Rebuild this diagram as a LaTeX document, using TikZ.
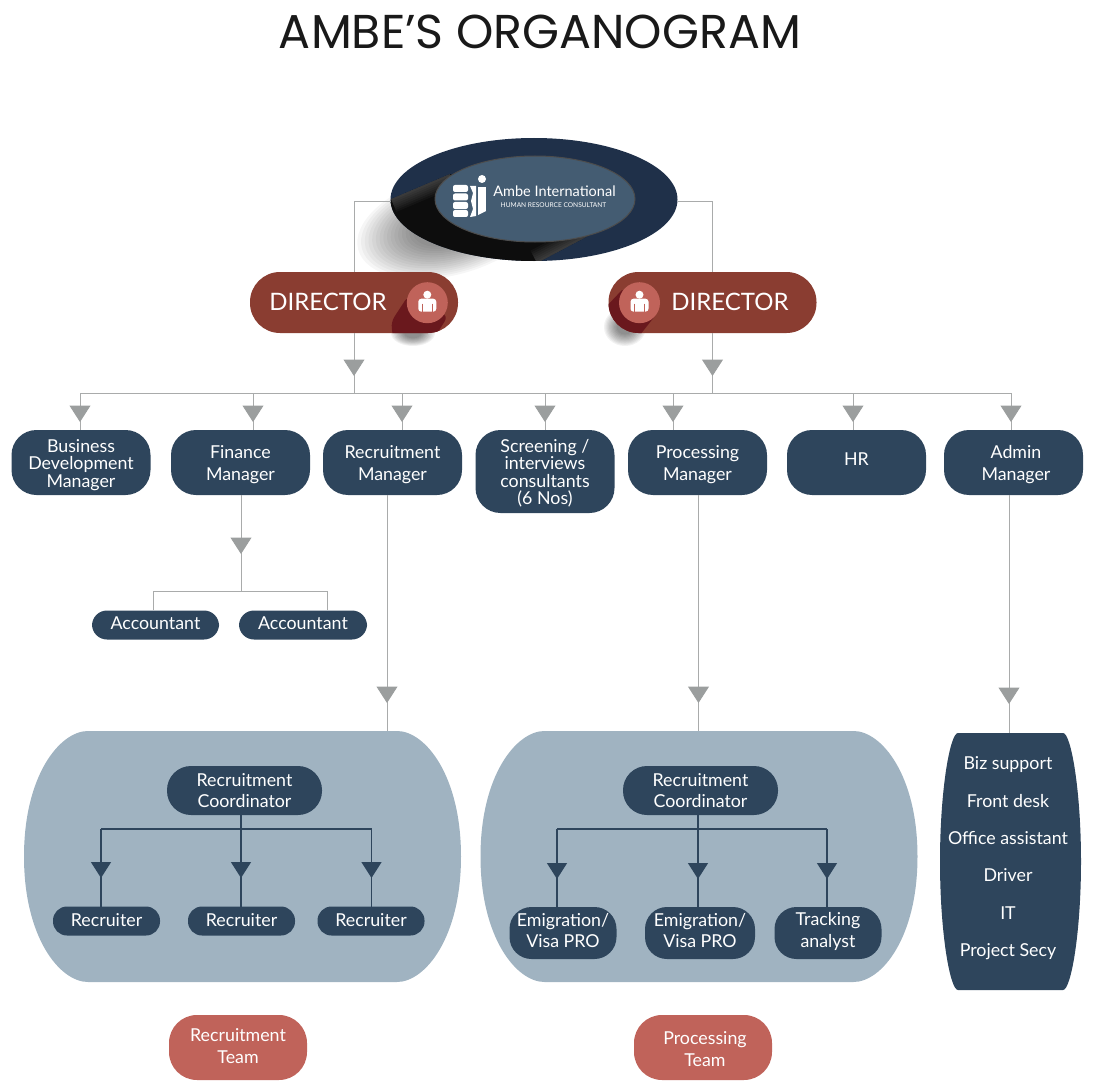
\documentclass[tikz,border=0pt]{standalone}
\usepackage{fontspec}
\setmainfont{Lato}
\newfontfamily\titlefont{Poppins}
\usetikzlibrary{arrows.meta,decorations.markings,shapes.geometric}

\definecolor{navybox}{HTML}{2E455C}
\definecolor{panelblue}{HTML}{A0B3C1}
\definecolor{brickred}{HTML}{8A3D31}
\definecolor{salmon}{HTML}{C0635A}
\definecolor{wirepen}{HTML}{A9ABAB}
\definecolor{tipgrey}{HTML}{9B9E9E}
\definecolor{hqnavy}{HTML}{1F3049}
\definecolor{hqface}{HTML}{445C72}
\definecolor{bandred}{HTML}{6A181D}

\tikzset{
	textdown/.style={execute at begin node={\rule{0pt}{#1pt}}},
	textup/.style={execute at end node={\rule[-#1pt]{0pt}{0pt}}},
	orgbox/.style={fill=navybox,text=white,rounded corners=25pt,inner sep=0pt,outer sep=0pt,align=center,
		minimum width=139pt,minimum height=65pt,font=\fontsize{17.8}{21.5}\selectfont},
	tightbox/.style={orgbox,font=\fontsize{17.8}{17.5}\selectfont},
	smallbox/.style={orgbox,rounded corners=14pt,minimum width=107pt,minimum height=29pt},
	wider/.style={orgbox,rounded corners=22pt,minimum width=107pt,minimum height=52pt},
	coordbox/.style={orgbox,rounded corners=24pt,minimum width=155pt,minimum height=49pt},
	teambox/.style={orgbox,fill=salmon,rounded corners=28pt,minimum width=138pt,minimum height=65pt},
	dirbox/.style={fill=brickred,rounded corners=30pt,inner sep=0pt,outer sep=0pt,minimum width=208pt,minimum height=61pt},
	wire/.style={draw=wirepen,line width=1pt},
	navywire/.style={draw=navybox,line width=1.5pt},
	tipat/.style={postaction=decorate,decoration={markings,mark=at position #1 with {\arrow{Triangle[width=21pt,length=16.5pt,fill=tipgrey,color=tipgrey]}}}},
	navytip/.style={postaction=decorate,decoration={markings,mark=at position #1 with {\arrow{Triangle[width=20pt,length=16pt,fill=navybox,color=navybox]}}}},
	staff/.pic={
		\fill [white] (0,-8) circle (4);
		\fill [white,rounded corners=3pt] (-9,9) -- (-9,-4) -- (9,-4) -- (9,9) -- cycle;
		\draw [salmon,line width=1pt] (-5,1) -- (-5,9);
		\draw [salmon,line width=1pt] (5,1) -- (5,9);
	},
	teampanel/.pic={
		\fill [panelblue] (64,0) -- (373,0) .. controls (401,0) and (437,44) .. (437,125.5)
			.. controls (437,207) and (401,251) .. (373,251) -- (64,251)
			.. controls (36,251) and (0,207) .. (0,125.5) .. controls (0,44) and (36,0) .. (64,0) -- cycle;
	}
}

\begin{document}
\begin{tikzpicture}[x=1pt,y=-1pt]
	\useasboundingbox (0,0) rectangle (1096,1089);

	\node [font=\titlefont\fontsize{47.5}{47.5}\selectfont,text=black!90] (title) at (540,32) {AMBE’S ORGANOGRAM};

	% shadow behind the top ellipse
	\foreach \k in {0.4,0.44,...,1.01}
		\fill [black,opacity=0.035,rotate around={15:(450,225)}] (450,225) ellipse ({95*\k} and {50*\k});

	\node [ellipse,fill=hqnavy,minimum width=287pt,minimum height=123pt,inner sep=0pt,outer sep=0pt] (hq) at (534,199.5) {};
	\begin{scope}
		\clip (534,199.5) ellipse (143.5 and 61.5);
		\fill [black!95] (391,199) -- (450,174) -- (590,235) -- (537,263) -- (380,265) -- cycle;
		\foreach \d in {2,4,...,14} {
			\fill [white,opacity=0.03] (391,199) -- (450,174) -- ({450+.39*\d},{174+.92*\d}) -- ({391+.39*\d},{199+.92*\d}) -- cycle;
			\fill [white,opacity=0.03] (590,235) -- (537,263) -- ({537-.47*\d},{263-.88*\d}) -- ({590-.47*\d},{235-.88*\d}) -- cycle;
		}
	\end{scope}
	\fill [fill=hqface,draw=black!70,line width=1pt] (535,199) ellipse (100 and 43);

	% logo
	\foreach \y in {185,193.5,202,210}
		\fill [white,rounded corners=2pt] (453,\y) rectangle (468,\y+7);
	\fill [white] (470,186) -- (476,186) -- (476,216) -- (470,217) -- (473,209) -- (471,201) -- (473,193) -- cycle;
	\fill [white] (478,187) rectangle (486,211);
	\fill [white] (478,211) -- (486,211) -- (478,215) -- cycle;
	\fill [white] (482,179) circle (4);
	\node [text=white,font=\fontsize{14.5}{14.5}\selectfont,inner sep=0pt] (brand) at (554.5,191) {Ambe International};
	\node [text=white,font=\fontsize{6.6}{6.6}\selectfont,inner sep=0pt] (brandsub) at (553.5,205) {HUMAN RESOURCE CONSULTANT};

	% directors
	\foreach \k in {0.4,0.46,...,1.01} {
		\fill [black,opacity=0.05] (413,333) ellipse ({22*\k} and {13*\k});
		\fill [black,opacity=0.05] (625,327) ellipse ({21*\k} and {19*\k});
	}
	\node [dirbox] (dirl) at (354,302.5) {};
	\node [dirbox] (dirr) at (712.5,302.5) {};
	\node [text=white,font=\fontsize{24}{24}\selectfont,inner sep=0pt] (dirltext) at (328,302) {DIRECTOR};
	\node [text=white,font=\fontsize{24}{24}\selectfont,inner sep=0pt] (dirrtext) at (730,302) {DIRECTOR};
	\begin{scope}
		\clip [rounded corners=30pt] (250,272) rectangle (458,333);
		\fill [bandred,rounded corners=6pt] (408,296) -- (391,322) -- (394,345) -- (430,345) -- (448,316) -- cycle;
	\end{scope}
	\begin{scope}
		\clip [rounded corners=30pt] (608.5,272) rectangle (816.5,333);
		\fill [bandred] (622,290) -- (603,310) -- (603,345) -- (632,345) -- (655,316) -- cycle;
	\end{scope}
	\node [circle,fill=salmon,minimum size=41pt,inner sep=0pt] (facel) at (427.3,302.7) {};
	\node [circle,fill=salmon,minimum size=41pt,inner sep=0pt] (facer) at (639.5,302.7) {};
	\pic at (facel) {staff};
	\pic at (facer) {staff};

	% managers
	\node [tightbox,textdown=53] (biz) at (81,462.5) {Business\\Development\\Manager};
	\node [orgbox,textdown=38.5] (fin) at (240.5,462.5) {Finance\\Manager};
	\node [orgbox,textdown=38.5] (rec) at (392.5,462.5) {Recruitment\\Manager};
	\node [tightbox,textdown=69,minimum height=83pt] (scr) at (545,471.5) {Screening /\\interviews\\consultants\\(6 Nos)};
	\node [orgbox,textdown=38.5] (pro) at (697.5,462.5) {Processing\\Manager};
	\node [orgbox,textup=7] (hr) at (856.5,462.5) {HR};
	\node [orgbox,textdown=38.5] (adm) at (1013.5,462.5) {\hspace*{5pt}Admin\\\hspace*{5pt}Manager};

	\node [smallbox,textup=4,minimum width=127pt,rounded corners=15pt] (accl) at (155.5,625) {Accountant};
	\node [smallbox,textup=4,minimum width=128pt,rounded corners=15pt] (accr) at (303,625) {Accountant};

	% wires of the top part
	\draw [wire] ([yshift=-2pt]hq.west) -| (dirl.north);
	\draw [wire] ([yshift=-2pt]hq.east) -| (dirr.north);
	\coordinate (busl) at (80,393);
	\coordinate (busr) at (1012,393);
	\draw [wire] (busl) -- (busr);
	\draw [wire,tipat=43pt] (dirl.south) -- (dirl.south |- busl);
	\draw [wire,tipat=43pt] (dirr.south) -- (dirr.south |- busl);
	\foreach \n/\x in {biz/80,fin/253,rec/402,scr/545,pro/673,hr/853,adm/1011}
		\draw [wire,tipat=29pt] (\x,393) -- (\x,393 |- \n.north);
	\coordinate (finjoin) at (241,591);
	\draw [wire,tipat=59pt] (241,495) -- (finjoin);
	\draw [wire] (153,610) |- (327,591) -- (327,610);

	% team panels
	\pic at (24,731) {teampanel};
	\pic at (480.5,731) {teampanel};
	\fill [navybox] (958,733) -- (1063,733) .. controls (1071,733) and (1081,790) .. (1081,861.5)
		.. controls (1081,933) and (1071,990) .. (1063,990) -- (958,990)
		.. controls (950,990) and (940,933) .. (940,861.5) .. controls (940,790) and (950,733) .. (958,733) -- cycle;

	\draw [wire,tipat=208pt] (387,495) -- (387,731);
	\draw [wire,tipat=208pt] (698.5,495) -- (698.5,731);
	\draw [wire,tipat=209pt] (1009,495) -- (1009,733);

	% recruitment panel
	\node [coordbox] (recco) at (244.5,790.5) {Recruitment\\Coordinator};
	\node [smallbox,textup=2] (recl) at (106.5,921) {Recruiter};
	\node [smallbox,textup=2] (recm) at (241.5,921) {Recruiter};
	\node [smallbox,textup=2] (recr) at (371,921) {Recruiter};
	\coordinate (recbus) at (241,829);
	\draw [navywire] (101,829) -- (372,829);
	\draw [navywire] (recbus |- recco.south) -- (recbus);
	\draw [navywire,navytip=49pt] (101,829) -- (101,907);
	\draw [navywire,navytip=49pt] (241,829) -- (241,907);
	\draw [navywire,navytip=49pt] (371.5,829) -- (371.5,907);

	% processing panel
	\node [coordbox] (proco) at (700.5,790.5) {Recruitment\\Coordinator};
	\node [wider,textup=5] (prol) at (563,933) {Emigration/\\Visa PRO};
	\node [wider,textup=5,minimum width=110pt] (prom) at (700,933) {Emigration/\\Visa PRO};
	\node [wider,textup=6] (pror) at (828,933) {Tracking\\analyst};
	\coordinate (probus) at (698,829);
	\draw [navywire] (557,829) -- (827,829);
	\draw [navywire] (probus |- proco.south) -- (probus);
	\draw [navywire,navytip=50pt] (557,829) -- (557,907);
	\draw [navywire,navytip=50pt] (698,829) -- (698,907);
	\draw [navywire,navytip=50pt] (827,829) -- (827,907);

	% admin panel
	\foreach \n/\y/\t in {a/769/Biz support,b/807/Front desk,c/844/Office assistant,d/881.5/Driver,e/919/IT,f/956/Project Secy}
		\node [text=white,font=\fontsize{17.8}{17.8}\selectfont,inner sep=0pt,anchor=base] (adm\n) at (1008,\y) {\t};

	\node [teambox,textup=3] (rteam) at (238,1047.5) {Recruitment\\Team};
	\node [teambox,textdown=37.5] (pteam) at (703,1047.5) {\hspace*{4pt}Processing\\\hspace*{4pt}Team};
\end{tikzpicture}
\end{document}
